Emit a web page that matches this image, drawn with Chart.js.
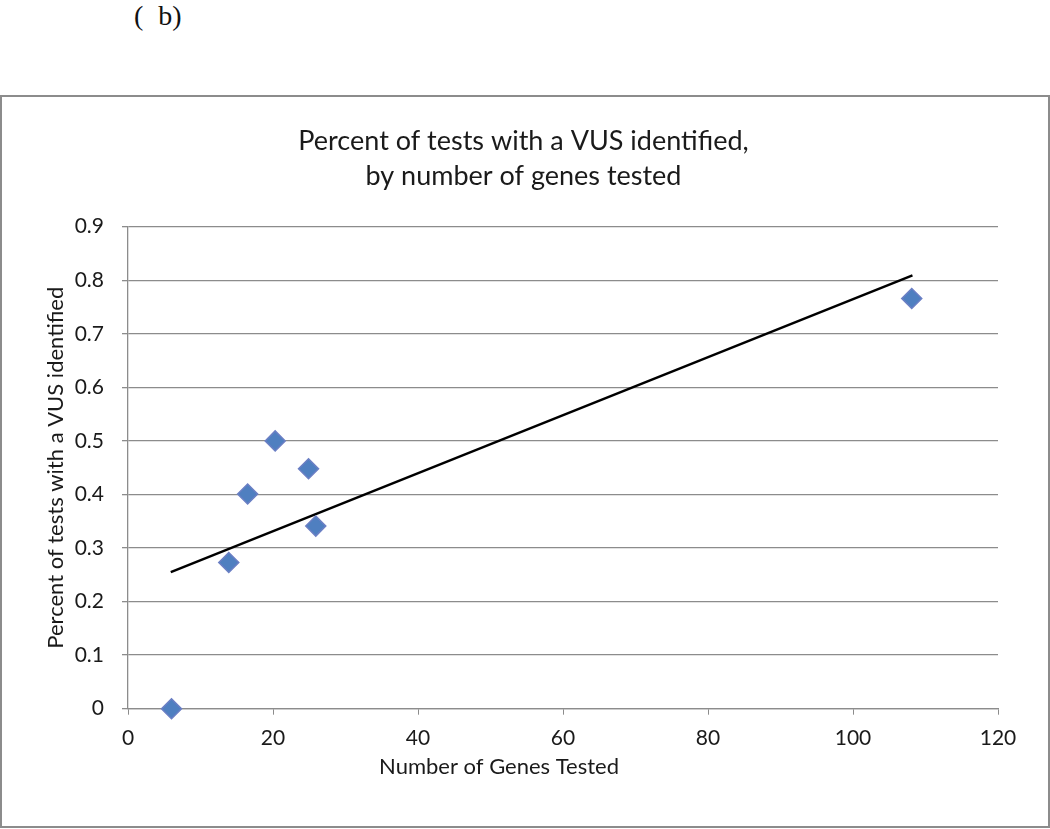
<!DOCTYPE html>
<html>
<head>
<meta charset="utf-8">
<script src="https://cdn.jsdelivr.net/npm/chart.js@4.4.1/dist/chart.umd.min.js"></script>
<style>
  html, body { margin: 0; padding: 0; background: #fff; }
  body { width: 1050px; height: 829px; position: relative; overflow: hidden; }
  #panel { position: absolute; left: 134px; top: 0px; font-family: "Liberation Serif", "DejaVu Serif", serif; font-size: 28px; line-height: 32px; color: #111; white-space: pre; }
  #panel span { margin-left: 15px; }
  #frame { position: absolute; left: 0; top: 95px; width: 1050px; height: 733px; box-sizing: border-box; border: 2px solid #8c8c8c; }
  #wrap { position: absolute; left: 0; top: 0; width: 1050px; height: 829px; }
  #vusChart { display: block; width: 1050px; height: 829px; }
</style>
</head>
<body>
<div id="panel">(<span>b)</span></div>
<div id="frame"></div>
<div id="wrap"><canvas id="vusChart" width="1050" height="829"></canvas></div>
<script>
"use strict";

// --- Data ---
const genesTested = [6, 13.9, 16.5, 20.3, 24.9, 25.9, 108.1];
const vusPercent = [0, 0.273, 0.401, 0.500, 0.448, 0.341, 0.766];
// trendline end points (as drawn in the reference)
const trendX = [5.9, 108.2];
const trendY = [0.255, 0.809];
const xTicks = [0, 20, 40, 60, 80, 100, 120];
const yTicks = [0, 0.1, 0.2, 0.3, 0.4, 0.5, 0.6, 0.7, 0.8, 0.9];

const chartTitle = ['Percent of tests with a VUS identified,', 'by number of genes tested'];
const xTitle = 'Number of Genes Tested';
const yTitle = 'Percent of tests with a VUS identified';

const FONT = 'Lato, "Open Sans", sans-serif';
const gridColor = '#8c8c8c';
const textColor = '#1a1a1a';

// axis titles sit where Excel put them (x title is left of centre)
const axisTitlePlugin = {
    id: 'axisTitlePlugin',
    afterDraw(chart) {
        const { ctx, chartArea } = chart;
        ctx.save();
        ctx.font = '22px ' + FONT;
        ctx.fillStyle = textColor;
        ctx.textAlign = 'center';
        ctx.textBaseline = 'middle';
        ctx.fillText(xTitle, (chartArea.left + chartArea.right) / 2 - 64, 767);
        ctx.translate(56, (chartArea.top + chartArea.bottom) / 2);
        ctx.rotate(-Math.PI / 2);
        ctx.fillText(yTitle, 0, 0);
        ctx.restore();
    }
};

const ctx = document.getElementById('vusChart').getContext('2d');
new Chart(ctx, {
    type: 'scatter',
    data: {
        datasets: [
            {
                label: 'Linear trend',
                data: trendX.map((x, i) => ({ x, y: trendY[i] })),
                showLine: true,
                borderColor: '#000',
                borderWidth: 2.5,
                pointRadius: 0,
                clip: false,
                order: 2
            },
            {
                label: 'Percent with VUS',
                data: genesTested.map((x, i) => ({ x, y: vusPercent[i] })),
                pointStyle: 'rectRot',
                pointRadius: 10,
                backgroundColor: '#4f7fc0',
                borderColor: '#6b7fc4',
                borderWidth: 1.5,
                clip: false,
                order: 1
            }
        ]
    },
    options: {
        responsive: false,
        animation: false,
        maintainAspectRatio: false,
        devicePixelRatio: 1,
        layout: { padding: { left: 49, right: 52, top: 97, bottom: 60 } },
        plugins: {
            legend: { display: false },
            tooltip: { enabled: false },
            title: {
                display: true,
                text: chartTitle,
                color: textColor,
                font: { family: FONT, size: 27, weight: 'normal', lineHeight: 1.3 },
                padding: { top: 26.5, bottom: 33 }
            }
        },
        scales: {
            x: {
                type: 'linear',
                min: 0,
                max: 120,
                afterBuildTicks: axis => { axis.ticks = xTicks.map(v => ({ value: v })); },
                afterFit: axis => { axis.height = 60.3; },
                ticks: { color: textColor, font: { family: FONT, size: 21 }, padding: 11 },
                grid: { display: true, drawOnChartArea: false, color: gridColor, tickLength: 6 },
                border: { color: gridColor, width: 1.3 }
            },
            y: {
                min: 0,
                max: 0.9,
                afterBuildTicks: axis => { axis.ticks = yTicks.map(v => ({ value: v })); },
                afterFit: axis => { axis.width = 79; },
                ticks: {
                    color: textColor,
                    font: { family: FONT, size: 21 },
                    padding: 18,
                    callback: v => String(+v.toFixed(1))
                },
                grid: { color: gridColor, tickLength: 6, lineWidth: 1.3 },
                border: { color: gridColor, width: 1.3 }
            }
        }
    },
    plugins: [axisTitlePlugin]
});
</script>
</body>
</html>
